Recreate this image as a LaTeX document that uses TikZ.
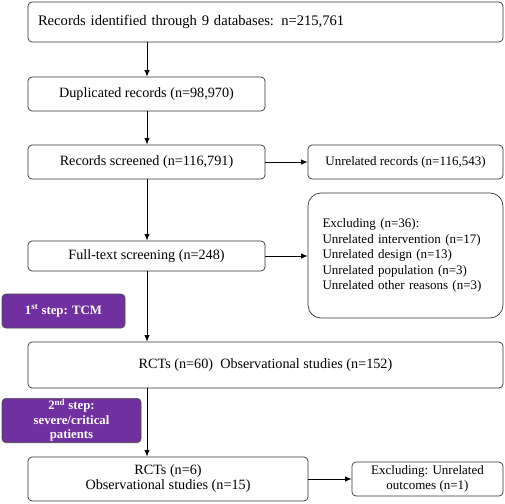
\documentclass[tikz,border=0pt]{standalone}
\usepackage{fontspec}
\setmainfont{Liberation Serif}
\usetikzlibrary{positioning}
\usetikzlibrary{arrows.meta}
\definecolor{stepPurple}{RGB}{112,48,160}
\tikzset{
    flowbox/.style = {rectangle, rounded corners=4pt, draw=black!80, line width=0.7pt, fill=white, align=center, inner sep=2pt},
    bigbox/.style = {flowbox, rounded corners=13pt, align=left},
    stepbox/.style = {rectangle, rounded corners=4pt, draw=black!70, line width=0.7pt, fill=stepPurple, text=white, align=center, font=\bfseries\fontsize{12.8}{14.5}\selectfont, inner sep=1pt},
    edgen/.style = {-{Latex[length=6.5pt,width=5.5pt]}, line width=1pt}, % down
    mainfont/.style = {font=\fontsize{14.2}{15}\selectfont},
    sidefont/.style = {font=\fontsize{13}{15.5}\selectfont},
}

\begin{document}
\begin{tikzpicture}[x=1pt, y=-1pt, mainfont]
  \useasboundingbox (0,0) rectangle (505,503);
  \coordinate (spine) at (147,0);

  % main column
  \node[flowbox, minimum width=475pt, minimum height=40pt, text width=455pt, align=left, font=\fontsize{14.6}{15}\selectfont] (ident) at (265.5,22)
    {Records identified through 9 databases: n=215,761};
  \node[flowbox, minimum width=237pt, minimum height=34pt] (dupl) at (146.5,94) {Duplicated records (n=98,970)};
  \node[flowbox, minimum width=237pt, minimum height=34pt] (screen) at (146.5,162) {Records screened (n=116,791)};
  \node[flowbox, minimum width=237pt, minimum height=30pt] (full) at (146.5,256) {Full-text screening (n=248)};
  \node[flowbox, minimum width=475pt, minimum height=46pt] (rcts) at (265.5,365) {RCTs (n=60)\ \ Observational studies (n=152)};
  \node[flowbox, minimum width=280pt, minimum height=44pt] (final) at (168,479) {RCTs (n=6)\\Observational studies (n=15)};

  % side boxes
  \node[flowbox, sidefont, minimum width=195pt, minimum height=34pt] (unrel) at (405.5,162) {Unrelated records (n=116,543)};
  \node[bigbox, sidefont, minimum width=195pt, minimum height=125pt, text width=166pt] (excl) at (405.5,255.5)
    {Excluding (n=36):\\Unrelated intervention (n=17)\\Unrelated design (n=13)\\Unrelated population (n=3)\\Unrelated other reasons (n=3)};
  \node[flowbox, sidefont, minimum width=151pt, minimum height=34pt] (outc) at (427.5,479) {Excluding: Unrelated\\outcomes (n=1)};

  % steps
  \node[stepbox, minimum width=123pt, minimum height=34pt] (step1) at (63.5,311) {1\textsuperscript{st} step: TCM};
  \node[stepbox, minimum width=139pt, minimum height=43pt] (step2) at (71.5,420.5) {2\textsuperscript{nd} step:\\severe/critical\\patients};

  % arrows
  \draw[edgen] (ident.south -| spine) -- (dupl.north -| spine);
  \draw[edgen] (dupl.south -| spine) -- (screen.north -| spine);
  \draw[edgen] (screen.south -| spine) -- (full.north -| spine);
  \draw[edgen] (full.south -| spine) -- (rcts.north -| spine);
  \draw[edgen] (rcts.south -| spine) -- (final.north -| spine);
  \draw[edgen] (screen.east) -- (unrel.west);
  \draw[edgen] (full.east) -- (excl.west |- full.east);
  \draw[edgen] (final.east) -- (outc.west);
\end{tikzpicture}
\end{document}
